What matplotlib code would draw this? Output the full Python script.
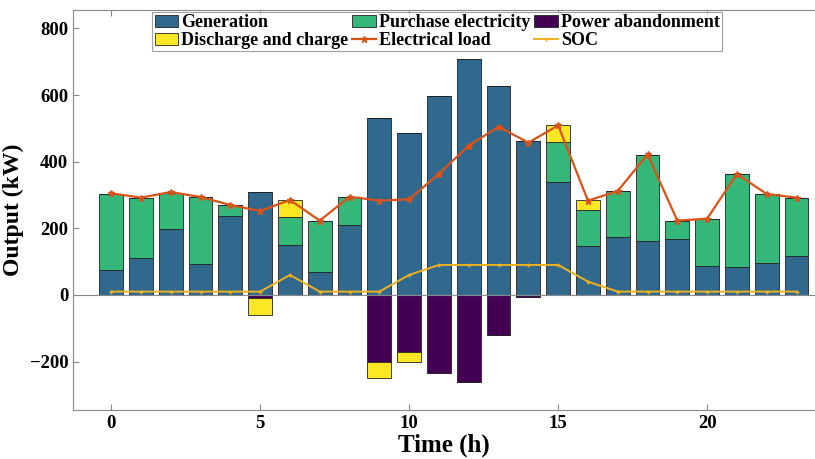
import matplotlib.pyplot as plt
import numpy as np

hours = np.arange(24)
generation = [75, 112, 198, 94, 236, 310, 149, 69, 209, 532, 487, 598,
              709, 628, 462, 339, 147, 173, 163, 168, 88, 85, 97, 118]
purchase = [227, 180, 109, 200, 35, 0, 85, 154, 84, 0, 0, 0,
            0, 0, 0, 120, 107, 138, 256, 55, 141, 277, 205, 173]
abandon = [0, 0, 0, 0, 0, -10, 0, 0, 0, -200, -170, -235,
           -260, -121, -5, 0, 0, 0, 0, 0, 0, 0, 0, 0]
storage = [0, 0, 0, 0, 0, -51, 52, 0, 0, -48, -30, 0,
           0, 0, 0, 50, 30, 0, 0, 0, 0, 0, 0, 0]
load = [305, 292, 309, 294, 270, 252, 285, 223, 295, 283, 287, 364,
        448, 505, 457, 509, 283, 312, 422, 223, 229, 363, 303, 292]
soc = [10, 10, 10, 10, 10, 10, 60, 10, 10, 10, 60, 90,
       90, 90, 90, 90, 40, 10, 10, 10, 10, 10, 10, 10]

plt.rcParams['font.family'] = ['Liberation Serif', 'DejaVu Serif']
plt.rcParams['font.weight'] = 'bold'

fig = plt.figure(figsize=(8.15, 4.59), dpi=100)
ax = fig.add_axes([0.0896, 0.107, 0.9104, 0.871])

gen = np.array(generation)
pur = np.array(purchase)
ab = np.array(abandon)
st = np.array(storage)
pos_st = np.where(st > 0, st, 0)
neg_st = np.where(st < 0, st, 0)

ec = '#222222'
lw = 0.6
w = 0.8
b1 = ax.bar(hours, gen, w, color='#31688E', edgecolor=ec, linewidth=lw, label='Generation')
b2 = ax.bar(hours, pur, w, bottom=gen, color='#35B779', edgecolor=ec, linewidth=lw,
            label='Purchase electricity')
b3 = ax.bar(hours, ab, w, color='#440154', edgecolor=ec, linewidth=lw, label='Power abandonment')
b4 = ax.bar(hours, pos_st, w, bottom=gen + pur, color='#FDE725', edgecolor=ec, linewidth=lw,
            label='Discharge and charge')
ax.bar(hours, neg_st, w, bottom=ab, color='#FDE725', edgecolor=ec, linewidth=lw)

ax.axhline(0, color='#888888', linewidth=0.8, zorder=1)

l1, = ax.plot(hours, load, color='#D95319', marker='*', markersize=5, linewidth=1.6,
              label='Electrical load')
l2, = ax.plot(hours, soc, color='#EDB120', marker='+', markersize=3, linewidth=1.4, label='SOC')

ax.set_xlim(-1.28, 23.62)
ax.set_ylim(-345, 855)
ax.set_xticks([0, 5, 10, 15, 20])
ax.set_yticks([-200, 0, 200, 400, 600, 800])
ax.tick_params(direction='in', labelsize=13.5, top=True, right=False, length=4, color='#888888')
ax.spines['right'].set_visible(False)
for s in ax.spines.values():
    s.set_color('#888888')
    s.set_linewidth(0.8)

ax.set_xlabel('Time (h)', fontsize=18, fontweight='bold', labelpad=1)
ax.set_ylabel('Output (kW)', fontsize=17, fontweight='bold', labelpad=4)

leg = ax.legend([b1, b4, b2, l1, b3, l2],
                ['Generation', 'Discharge and charge', 'Purchase electricity',
                 'Electrical load', 'Power abandonment', 'SOC'],
                ncol=3, loc='upper left', bbox_to_anchor=(0.107, 0.995),
                fontsize=13, frameon=True, fancybox=False, edgecolor='#888888',
                borderpad=0.12, labelspacing=0.05, handlelength=1.3, handletextpad=0.15,
                columnspacing=0.25, borderaxespad=0.0)
leg.get_frame().set_linewidth(0.8)

fig.savefig('out.png', dpi=100)
